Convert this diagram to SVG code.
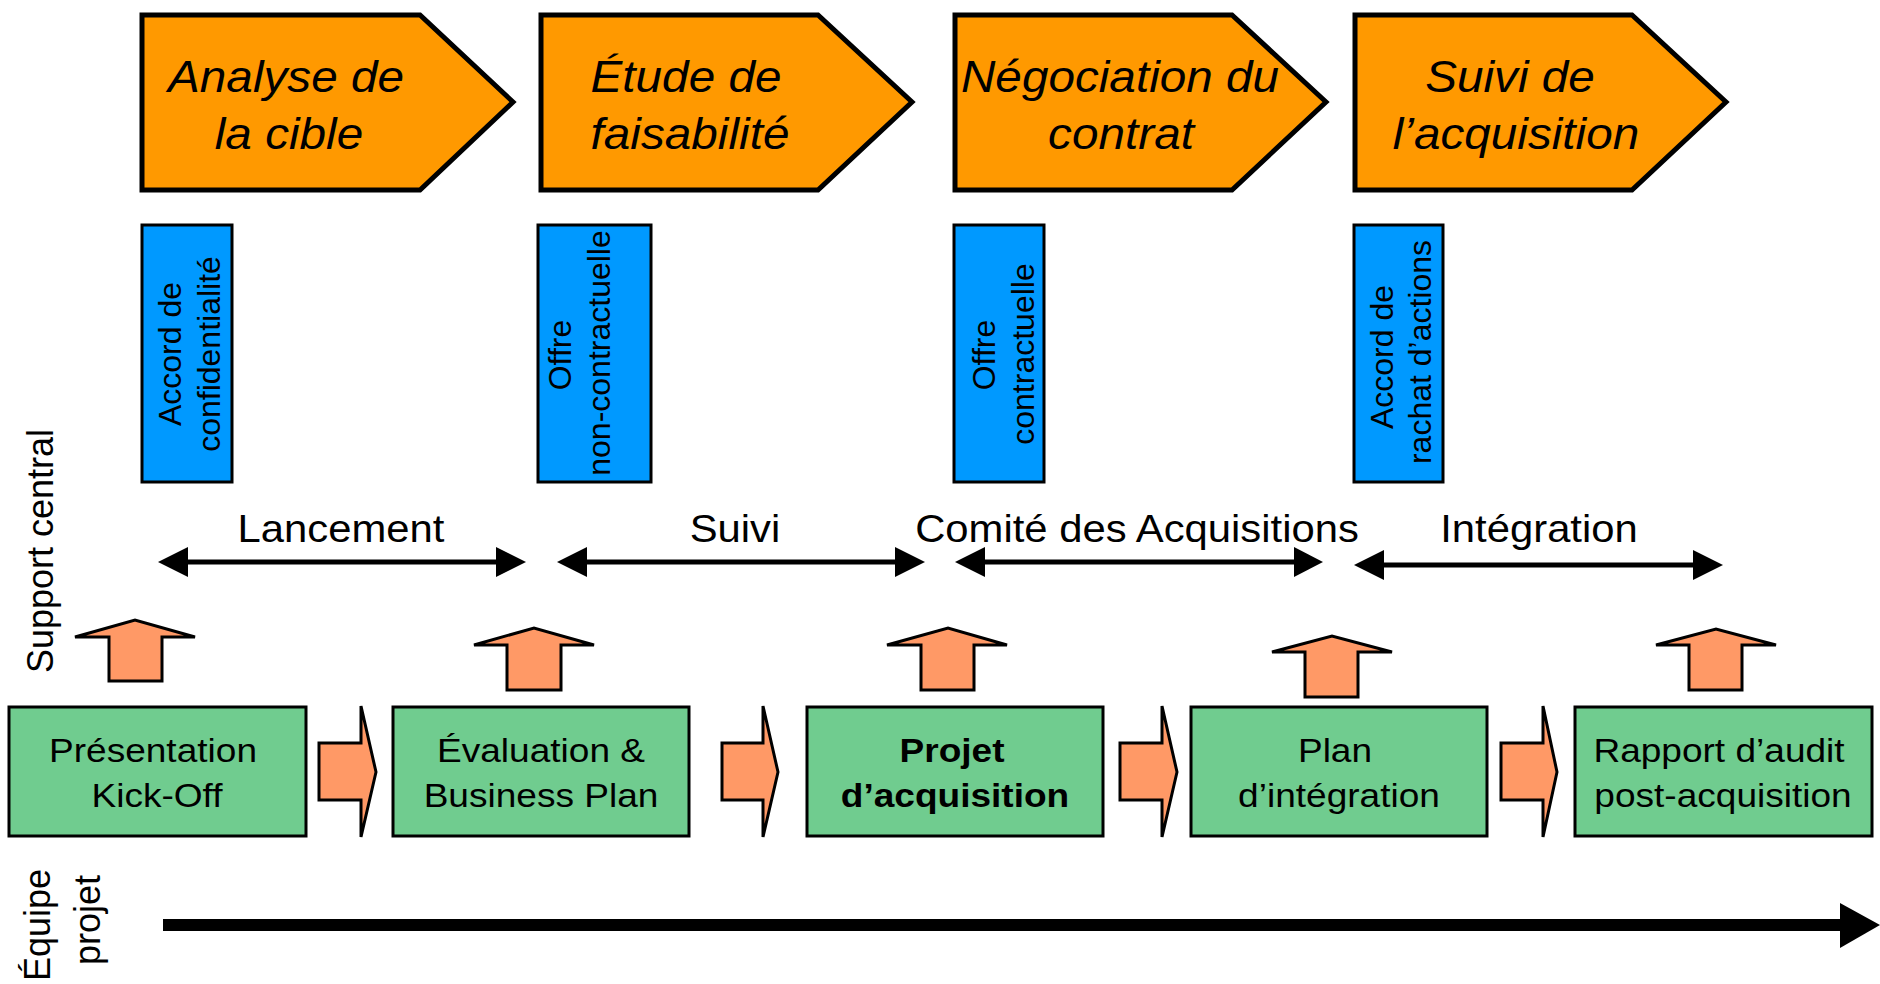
<svg xmlns="http://www.w3.org/2000/svg" width="1880" height="984" viewBox="0 0 1880 984">
  <style>
    .phase { fill: #FF9900; stroke: #000; stroke-width: 5; stroke-linejoin: miter; }
    .phase-t { font-family: "Liberation Sans", Arial, sans-serif; font-style: italic; font-size: 45px; fill: #000; text-anchor: middle; }
    .doc { fill: #0099FF; stroke: #000; stroke-width: 3; }
    .doc-t { font-family: "Liberation Sans", Arial, sans-serif; font-size: 32px; fill: #000; text-anchor: middle; }
    .step { fill: #70CC8F; stroke: #000; stroke-width: 3; }
    .step-t { font-family: "Liberation Sans", Arial, sans-serif; font-size: 34px; fill: #000; text-anchor: middle; }
    .bold { font-weight: bold; }
    .flow { fill: #FF9966; stroke: #000; stroke-width: 3; stroke-linejoin: miter; }
    .span { stroke: #000; stroke-width: 5; fill: none; }
    .head { fill: #000; }
    .span-t { font-family: "Liberation Sans", Arial, sans-serif; font-size: 38px; fill: #000; text-anchor: middle; }
    .side-t { font-family: "Liberation Sans", Arial, sans-serif; font-size: 36px; fill: #000; text-anchor: middle; }
  </style>

  <!-- Lane labels -->
  <g id="lane-support">
    <text class="side-t" transform="translate(53,551) rotate(-90)">Support central</text>
  </g>
  <g id="lane-equipe">
    <text class="side-t" transform="translate(50,925) rotate(-90)">Équipe</text>
    <text class="side-t" transform="translate(100,920) rotate(-90)">projet</text>
  </g>

  <!-- Phase chevrons -->
  <g id="phase-analyse">
    <path class="phase" d="M142,15 L420,15 L513,102 L420,190 L142,190 Z"/>
    <text class="phase-t" transform="translate(286,92) scale(1.06,1)">Analyse de</text>
    <text class="phase-t" transform="translate(289,149) scale(1.06,1)">la cible</text>
  </g>
  <g id="phase-etude">
    <path class="phase" d="M541,15 L818,15 L912,102 L818,190 L541,190 Z"/>
    <text class="phase-t" transform="translate(686,92) scale(1.06,1)">Étude de</text>
    <text class="phase-t" transform="translate(690,149) scale(1.06,1)">faisabilité</text>
  </g>
  <g id="phase-negociation">
    <path class="phase" d="M955,15 L1232,15 L1326,102 L1232,190 L955,190 Z"/>
    <text class="phase-t" transform="translate(1120,92) scale(1.06,1)">Négociation du</text>
    <text class="phase-t" transform="translate(1121,149) scale(1.06,1)">contrat</text>
  </g>
  <g id="phase-suivi">
    <path class="phase" d="M1355,15 L1632,15 L1726,102 L1632,190 L1355,190 Z"/>
    <text class="phase-t" transform="translate(1510,92) scale(1.06,1)">Suivi de</text>
    <text class="phase-t" transform="translate(1516,149) scale(1.06,1)">l’acquisition</text>
  </g>

  <!-- Contract documents -->
  <g id="doc-confidentialite">
    <rect class="doc" x="142" y="225" width="90" height="257"/>
    <text class="doc-t" transform="translate(181,354) rotate(-90)">Accord de</text>
    <text class="doc-t" transform="translate(220,354) rotate(-90)">confidentialité</text>
  </g>
  <g id="doc-offre-nc">
    <rect class="doc" x="538" y="225" width="113" height="257"/>
    <text class="doc-t" transform="translate(571,355) rotate(-90)">Offre</text>
    <text class="doc-t" transform="translate(610,353) rotate(-90)">non-contractuelle</text>
  </g>
  <g id="doc-offre-c">
    <rect class="doc" x="954" y="225" width="90" height="257"/>
    <text class="doc-t" transform="translate(995,355) rotate(-90)">Offre</text>
    <text class="doc-t" transform="translate(1034,354) rotate(-90)">contractuelle</text>
  </g>
  <g id="doc-rachat">
    <rect class="doc" x="1354" y="225" width="89" height="257"/>
    <text class="doc-t" transform="translate(1393,357) rotate(-90)">Accord de</text>
    <text class="doc-t" transform="translate(1431,352) rotate(-90)">rachat d’actions</text>
  </g>

  <!-- Project deliverables -->
  <g id="step-kickoff">
    <rect class="step" x="9" y="707" width="297" height="129"/>
    <text class="step-t" transform="translate(153,762) scale(1.09,1)">Présentation</text>
    <text class="step-t" transform="translate(157,807) scale(1.09,1)">Kick-Off</text>
  </g>
  <g id="step-evaluation">
    <rect class="step" x="393" y="707" width="296" height="129"/>
    <text class="step-t" transform="translate(541,762) scale(1.09,1)">Évaluation &amp;</text>
    <text class="step-t" transform="translate(541,807) scale(1.09,1)">Business Plan</text>
  </g>
  <g id="step-projet">
    <rect class="step" x="807" y="707" width="296" height="129"/>
    <text class="step-t bold" transform="translate(952,762) scale(1.09,1)">Projet</text>
    <text class="step-t bold" transform="translate(955,807) scale(1.09,1)">d’acquisition</text>
  </g>
  <g id="step-integration">
    <rect class="step" x="1191" y="707" width="296" height="129"/>
    <text class="step-t" transform="translate(1335,762) scale(1.09,1)">Plan</text>
    <text class="step-t" transform="translate(1339,807) scale(1.09,1)">d’intégration</text>
  </g>
  <g id="step-audit">
    <rect class="step" x="1575" y="707" width="297" height="129"/>
    <text class="step-t" transform="translate(1719,762) scale(1.09,1)">Rapport d’audit</text>
    <text class="step-t" transform="translate(1723,807) scale(1.09,1)">post-acquisition</text>
  </g>

  <g id="connectors">
    <!-- flow between deliverables -->
    <polygon class="flow" points="319,743 361,743 361,706 376,772 361,837 361,800 319,800"/>
    <polygon class="flow" points="722,743 763,743 763,706 778,772 763,837 763,800 722,800"/>
    <polygon class="flow" points="1120,743 1162,743 1162,706 1177,772 1162,837 1162,800 1120,800"/>
    <polygon class="flow" points="1501,743 1543,743 1543,706 1557,772 1543,837 1543,800 1501,800"/>

    <!-- escalation to central support -->
    <polygon class="flow" points="109,681 109,637 75,637 135,620 195,637 162,637 162,681"/>
    <polygon class="flow" points="507,690 507,645 474,645 534,628 594,645 561,645 561,690"/>
    <polygon class="flow" points="921,690 921,645 887,645 948,628 1007,645 974,645 974,690"/>
    <polygon class="flow" points="1305,697 1305,652 1272,652 1332,636 1392,652 1358,652 1358,697"/>
    <polygon class="flow" points="1689,690 1689,645 1656,645 1716,629 1776,645 1742,645 1742,690"/>

    <!-- governance spans -->
    <g id="span-lancement">
      <line class="span" x1="186" y1="562" x2="498" y2="562"/>
      <polygon class="head" points="158,562 188,547 188,577"/>
      <polygon class="head" points="526,562 496,547 496,577"/>
      <text class="span-t" transform="translate(341,542) scale(1.1,1)">Lancement</text>
    </g>
    <g id="span-suivi">
      <line class="span" x1="585" y1="562" x2="897" y2="562"/>
      <polygon class="head" points="557,562 587,547 587,577"/>
      <polygon class="head" points="925,562 895,547 895,577"/>
      <text class="span-t" transform="translate(735,542) scale(1.1,1)">Suivi</text>
    </g>
    <g id="span-comite">
      <line class="span" x1="983" y1="562" x2="1296" y2="562"/>
      <polygon class="head" points="955,562 985,547 985,577"/>
      <polygon class="head" points="1323,562 1294,547 1294,577"/>
      <text class="span-t" transform="translate(1137,542) scale(1.1,1)">Comité des Acquisitions</text>
    </g>
    <g id="span-integration">
      <line class="span" x1="1382" y1="565" x2="1695" y2="565"/>
      <polygon class="head" points="1354,565 1384,550 1384,580"/>
      <polygon class="head" points="1723,565 1693,550 1693,580"/>
      <text class="span-t" transform="translate(1539,542) scale(1.1,1)">Intégration</text>
    </g>

    <!-- project timeline -->
    <rect x="163" y="919" width="1679" height="12" fill="#000"/>
    <polygon class="head" points="1840,903 1880,925 1840,948"/>
  </g>
</svg>
